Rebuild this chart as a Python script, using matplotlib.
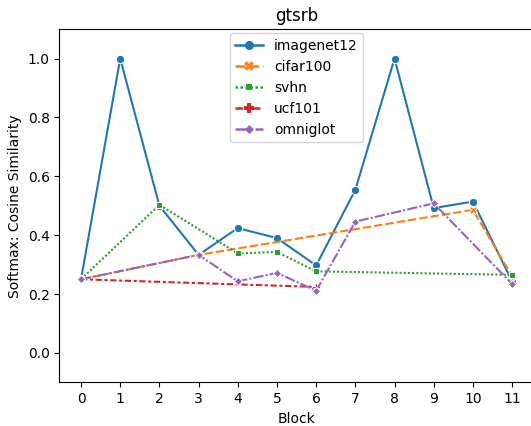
import matplotlib
matplotlib.use('Agg')
import matplotlib.pyplot as plt
import pandas as pd
import seaborn as sns

datasets = ['imagenet12', 'cifar100', 'svhn', 'ucf101', 'omniglot']

imagenet12_blocks = [0, 1, 2, 3, 4, 5, 6, 7, 8, 9, 10, 11]
imagenet12_vals = [0.25, 1.0, 0.50, 0.333, 0.424, 0.39, 0.297, 0.554, 1.0, 0.492, 0.514, 0.243]

cifar100_blocks = [0, 3, 10, 11]
cifar100_vals = [0.25, 0.333, 0.486, 0.26]

svhn_blocks = [0, 2, 4, 5, 6, 11]
svhn_vals = [0.25, 0.503, 0.338, 0.343, 0.277, 0.265]

ucf101_blocks = [0, 6]
ucf101_vals = [0.25, 0.224]

omniglot_blocks = [0, 3, 4, 5, 6, 7, 9, 11]
omniglot_vals = [0.25, 0.333, 0.243, 0.272, 0.211, 0.446, 0.508, 0.234]

blocks = [imagenet12_blocks, cifar100_blocks, svhn_blocks, ucf101_blocks, omniglot_blocks]
vals = [imagenet12_vals, cifar100_vals, svhn_vals, ucf101_vals, omniglot_vals]

rows = []
for name, bs, vs in zip(datasets, blocks, vals):
    for b, v in zip(bs, vs):
        rows.append({'Block': b, 'sim': v, 'dataset': name})
df = pd.DataFrame(rows)

fig = plt.figure(figsize=(5.31, 4.26), dpi=100)
ax = fig.add_axes([0.112, 0.1026, 0.893, 0.829])
sns.lineplot(data=df, x='Block', y='sim', hue='dataset', style='dataset',
             hue_order=datasets, style_order=datasets,
             markers=True, dashes=True, ax=ax)
ax.set_xticks(range(12))
ax.set_ylim(-0.1, 1.1)
ax.set_xlabel('Block')
ax.set_ylabel('Softmax: Cosine Similarity')
ax.set_title('gtsrb')
leg = ax.legend(loc='upper center', borderaxespad=0.3)
for h in leg.get_lines():
    h.set_markersize(6.5)
    h.set_markeredgewidth(0)
    h.set_linewidth(1.8)

fig.savefig('out.png', dpi=100)
